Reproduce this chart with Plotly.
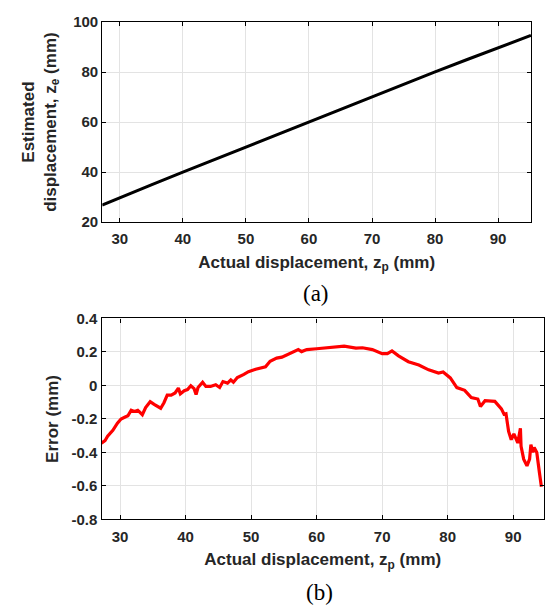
import plotly.graph_objects as go

# ---- data ----
actual_a = [27.2, 30, 35, 40, 45, 50, 55, 60, 65, 70, 75, 80, 85, 90, 95.2]
estimated_a = [26.8, 29.8, 34.9, 39.97, 45.0, 50.1, 55.15, 60.2, 65.2, 70.2, 75.1, 80.05, 84.9, 89.7, 94.6]

actual_b = [27.16, 27.7, 28.1, 28.9, 29.6, 30.15, 30.7, 31.2, 31.7, 32.2, 32.7, 33.1, 33.4, 33.9,
            34.6, 35.2, 35.7, 36.2, 36.7, 37.2, 37.8, 38.4, 38.9, 39.2, 39.8, 40.3, 40.8, 41.3,
            41.6, 41.9, 42.6, 43.1, 43.8, 44.6, 45.2, 45.7, 46.4, 46.9, 47.3, 47.9, 48.9, 49.6,
            50.7, 51.7, 52.2, 52.9, 53.9, 54.7, 55.7, 56.5, 57.2, 57.7, 58.5,
            60.0, 61.9, 64.2, 66.0, 67.0, 68.5, 70.0, 70.8, 71.5,
            72.5, 74.0, 75.6, 77.1, 78.6, 79.3, 80.4, 81.4, 82.6, 83.6, 84.6, 85.0, 85.7, 87.2,
            88.2, 88.6, 88.9, 89.3, 89.7, 90.1, 90.7, 91.1, 91.2, 91.6, 92.1, 92.5, 92.7, 93.0,
            93.2, 93.6, 94.0, 94.3]
error_b = [-0.344, -0.33, -0.303, -0.268, -0.225, -0.2, -0.19, -0.181, -0.148, -0.155, -0.148,
           -0.167, -0.175, -0.132, -0.097, -0.113, -0.122, -0.136, -0.103, -0.058, -0.058, -0.045,
           -0.016, -0.05, -0.031, -0.025, -0.002, -0.019, -0.054, -0.012, 0.019, -0.006, -0.006,
           0.004, -0.012, 0.023, 0.014, 0.033, 0.019, 0.047, 0.066, 0.082, 0.097, 0.105, 0.111,
           0.144, 0.163, 0.169, 0.188, 0.198, 0.214, 0.202, 0.214,
           0.219, 0.225, 0.235, 0.223, 0.225, 0.214, 0.19, 0.19, 0.206,
           0.177, 0.142, 0.122, 0.093, 0.074, 0.08, 0.045, -0.013, -0.029, -0.072, -0.081, -0.126,
           -0.091, -0.095, -0.14, -0.172, -0.169, -0.275, -0.324, -0.289, -0.343, -0.256, -0.363,
           -0.44, -0.48, -0.44, -0.353, -0.40, -0.37, -0.40, -0.52, -0.605]

x_ticks = [30, 40, 50, 60, 70, 80, 90]
ya_ticks = [20, 40, 60, 80, 100]
yb_ticks = [-0.8, -0.6, -0.4, -0.2, 0, 0.2, 0.4]
yb_ticklabels = ["-0.8", "-0.6", "-0.4", "-0.2", "0", "0.2", "0.4"]

# ---- figure ----
W, H = 545, 612
tick_font = dict(family="Liberation Sans, Arial, sans-serif", size=15, color="#262626",
                 weight="bold")
title_font = dict(family="Liberation Sans, Arial, sans-serif", size=17, color="#262626",
                  weight="bold")
label_font = dict(family="Liberation Serif, Times New Roman, serif", size=23, color="black")

fig = go.Figure()
fig.add_trace(go.Scatter(x=actual_a, y=estimated_a, mode="lines",
                         line=dict(color="black", width=3), xaxis="x", yaxis="y",
                         showlegend=False))
fig.add_trace(go.Scatter(x=actual_b, y=error_b, mode="lines",
                         line=dict(color="#ff0000", width=3.2), xaxis="x2", yaxis="y2",
                         showlegend=False))

common_axis = dict(showline=True, linecolor="black", linewidth=1.3, ticks="inside",
                   ticklen=4, tickcolor="black", showgrid=True, gridcolor="#e3e3e3",
                   gridwidth=1, zeroline=False, tickfont=tick_font, mirror="ticks")

fig.update_layout(
    width=W, height=H,
    margin=dict(l=0, r=0, t=0, b=0),
    paper_bgcolor="white", plot_bgcolor="white",
    xaxis=dict(domain=[102.5 / W, 532 / W], anchor="y", range=[27.23, 95.22],
               tickvals=x_ticks, ticklabelstandoff=3,
               title=dict(text="Actual displacement, z<sub>p</sub> (mm)", font=title_font,
                          standoff=9),
               **common_axis),
    yaxis=dict(domain=[1 - 219.3 / H, 1 - 13.3 / H], anchor="x", range=[20, 100],
               tickvals=ya_ticks,
               title=dict(text="Estimated<br>displacement, z<sub>e</sub> (mm)",
                          font=title_font, standoff=12),
               **common_axis),
    xaxis2=dict(domain=[101.7 / W, 1.0], anchor="y2", range=[27.17, 94.7],
                tickvals=x_ticks, ticklabelstandoff=3,
                title=dict(text="Actual displacement, z<sub>p</sub> (mm)", font=title_font,
                           standoff=9),
                **common_axis),
    yaxis2=dict(domain=[1 - 525 / H, 1 - 318.3 / H], anchor="x2", range=[-0.8, 0.4],
                tickvals=yb_ticks, ticktext=yb_ticklabels,
                title=dict(text="Error (mm)", font=title_font, standoff=8),
                **common_axis),
    annotations=[
        dict(text="(a)", x=317 / W, y=1 - 293 / H, xref="paper", yref="paper",
             showarrow=False, xanchor="center", yanchor="middle", font=label_font),
        dict(text="(b)", x=320 / W, y=1 - 600 / H, xref="paper", yref="paper",
             showarrow=False, xanchor="center", yanchor="middle", font=label_font),
    ],
)

fig.write_html("out.html")
